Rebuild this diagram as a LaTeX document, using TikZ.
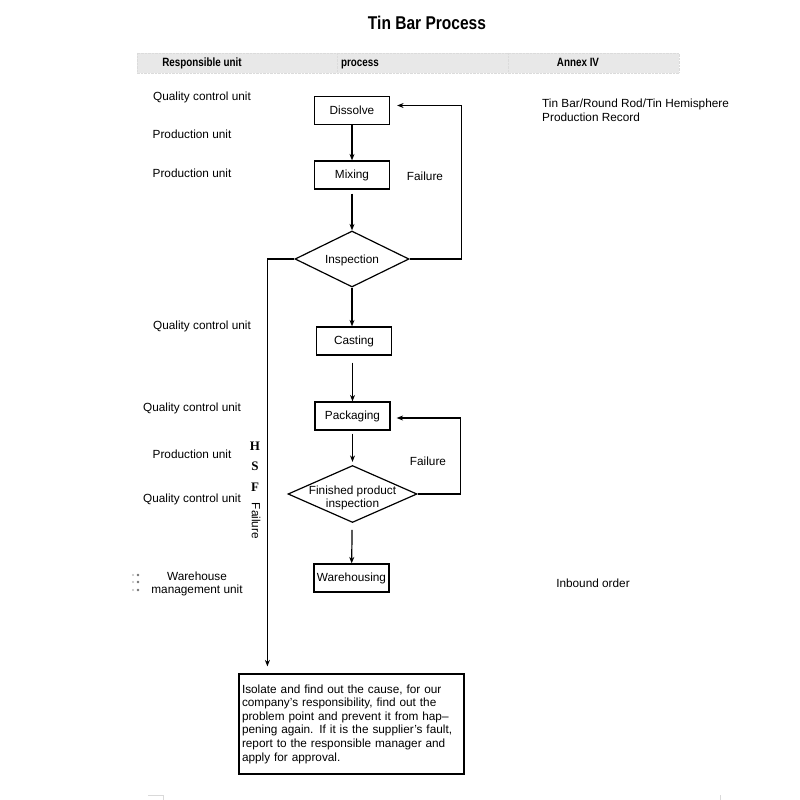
\documentclass[tikz,border=0pt]{standalone}
\usepackage{fontspec}
\setmainfont{Liberation Sans}
\newfontfamily\hsffont{Liberation Serif}
\usetikzlibrary{arrows.meta, shapes.geometric}
\tikzset{>={Stealth[length=6.5pt,width=5pt]}}
\tikzset{
	stepbox/.style={draw, line width=1.2pt, minimum width=75pt, minimum height=28pt, inner sep=0pt},
	checkbox/.style={draw, diamond, line width=1.2pt, inner sep=0pt},
	unit/.style={inner sep=0pt},
	headtext/.style={inner sep=0pt, anchor=base, font=\fontsize{12}{14}\selectfont\bfseries, xscale=0.82},
	flow/.style={->, line width=1.2pt}
}

\begin{document}
\begin{tikzpicture}[x=1pt, y=-1pt, font=\fontsize{11.8}{13.6}\selectfont]
	\useasboundingbox (0,0) rectangle (800,800);
	% title and header bar
	\node [inner sep=0pt, anchor=base, font=\fontsize{18.5}{20}\selectfont\bfseries, xscale=0.84] (title) at (427,30) {Tin Bar Process};
	\draw [fill=black!9, draw=black!14, densely dotted] (137,53) rectangle (679,73);
	\draw [black!14, densely dotted] (337,53) -- (337,73);
	\draw [black!14, densely dotted] (508,53) -- (508,73);
	\node [headtext] (hunit) at (202,66.7) {Responsible unit};
	\node [headtext] (hproc) at (360,66.7) {process};
	\node [headtext] (hannex) at (578,66.7) {Annex IV};
	% responsible units
	\foreach \i/\x/\y/\t in {1/202/97/Quality control unit, 2/192/134/Production unit, 3/192/173/Production unit, 4/202/326/Quality control unit, 5/192/408/Quality control unit, 6/192/454/Production unit, 7/192/499/Quality control unit}
	\node [unit] (u\i) at (\x,\y) {\t};
	\node [unit, align=center] (u8) at (197,584) {Warehouse\\management unit};
	\foreach \y in {575,582,590}
	{\fill [black!25] (133,\y) circle [radius=1.2pt];
	\fill [black!55] (138,\y) circle [radius=1.3pt];}
	% annex
	\node [unit, align=left, anchor=west] (rec) at (542,110) {Tin Bar/Round Rod/Tin Hemisphere\\Production Record};
	\node [unit] (inb) at (593,583) {Inbound order};
	% process
	\node [stepbox] (dis) at (352,110.5) {Dissolve};
	\node [stepbox] (mix) at (352,175) {Mixing};
	\node [checkbox, minimum width=114pt, minimum height=56pt] (insp) at (352,259) {};
	\node [unit] (insptext) at (352,260) {Inspection};
	\node [stepbox] (cast) at (354,341) {Casting};
	\node [stepbox] (pack) at (352.5,416) {Packaging};
	\node [checkbox, minimum width=129pt, minimum height=57pt] (fpi) at (352.5,494) {};
	\node [unit, align=center] (fpitext) at (352.5,498) {Finished product\\inspection};
	\node [stepbox] (ware) at (351.5,578) {Warehousing};
	\node [draw, line width=1.2pt, minimum width=225pt, minimum height=100pt, text width=219pt, align=left, inner sep=3pt] (note) at (351.5,724) {Isolate and find out the cause, for our\\company’s responsibility, find out the\\problem point and prevent it from hap–\\pening again. If it is the supplier’s fault,\\report to the responsible manager and\\apply for approval.};
	% connectors
	\draw [flow] (dis) -- (mix);
	\draw [flow, shorten <=4pt] (mix) -- (insp);
	\draw [flow] (insp.south) -- (insp.south |- cast.north);
	\draw [flow, shorten <=7pt] (cast.south -| pack.north) -- (pack.north);
	\draw [flow, shorten <=3pt, shorten >=3pt] (pack) -- (fpi);
	\draw [flow, shorten <=7pt] (fpi) -- (ware);
	\draw [flow, shorten >=7pt] (insp.east) -- ++(52,0) |- ([yshift=5pt]dis.east);
	\draw [flow, shorten >=6pt] (fpi.east) -- ++(43,0) |- ([yshift=-2pt]pack.east);
	\draw [flow, shorten >=7pt] (insp.west) -| ([xshift=29pt]note.north west);
	% labels
	\node [unit] (fail1) at (425,176) {Failure};
	\node [unit] (fail2) at (428,461) {Failure};
	\foreach \i/\y/\t in {1/446/H, 2/466/S, 3/487/F}
	\node [unit, font=\hsffont\bfseries\fontsize{13}{14}\selectfont] (hsf\i) at (255,\y) {\t};
	\node [unit, rotate=-90] (fail3) at (256,521) {Failure};
	% page marks
	\draw [black!15] (148,795) -- (163,795) -- (163,800);
	\draw [black!15] (720,795) -- (720,800);
\end{tikzpicture}
\end{document}
